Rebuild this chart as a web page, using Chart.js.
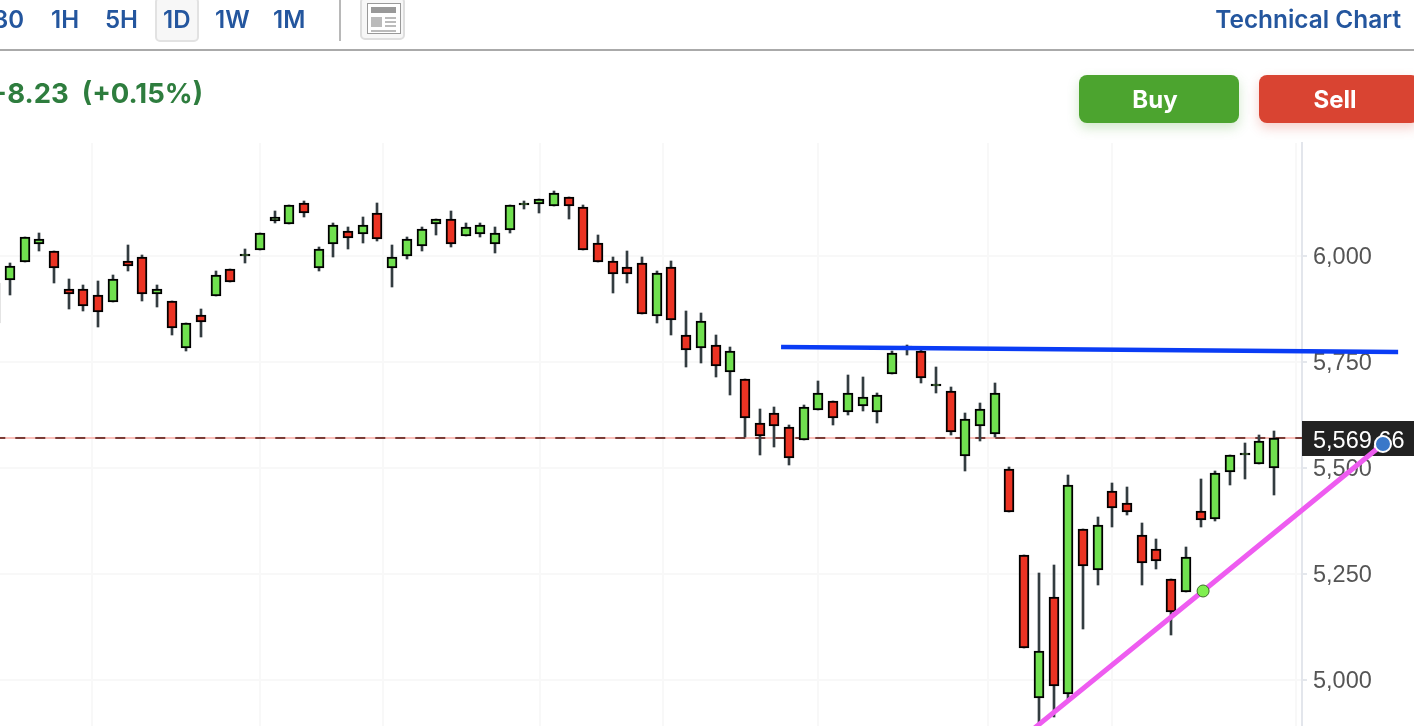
<!DOCTYPE html>
<html>
<head>
<meta charset="utf-8">
<title>Technical Chart</title>
<script src="https://cdn.jsdelivr.net/npm/chart.js@4"></script>
<style>
  html, body { margin: 0; padding: 0; background: #fff; overflow: hidden; }
  body { width: 1414px; height: 726px; position: relative; font-family: Inter, sans-serif; }
  canvas { position: absolute; left: 0; top: 0; }
  .tf { position: absolute; top: 0; height: 40px; line-height: 40px; font-size: 24px; font-weight: 600; color: #24569e; white-space: pre; }
  .active { position: absolute; left: 155px; top: -3px; width: 40px; height: 41px; background: #f7f7f7; border: 2px solid #e2e2e2; border-radius: 5px; }
  .divider { position: absolute; left: 339px; top: 0; width: 2px; height: 41px; background: #b8b8b8; }
  .rule { position: absolute; left: 0; top: 49px; width: 1414px; height: 2px; background: #aaa; }
  .change { position: absolute; right: calc(100% - 203px); top: 74px; line-height: 38px; font-size: 27.5px; font-weight: 700; color: #2e7d3e; white-space: pre; }
  .btn { position: absolute; top: 75px; height: 48px; line-height: 49px; border-radius: 8px; color: #fff; font-size: 24px; font-weight: 700; text-align: center; }
  .buy { left: 1079px; width: 152px; padding-right: 8px; background: #4ca42f; box-shadow: 0 5px 12px rgba(76,164,47,.25); }
  .sell { left: 1259px; width: 152px; padding-right: 8px; background: #d94432; box-shadow: 0 5px 12px rgba(217,68,50,.25); }
  svg { position: absolute; left: 360px; top: -3px; }
</style>
</head>
<body>
<canvas id="candleChart" width="1414" height="726"></canvas>

<div class="active"></div>
<div class="tf" style="right:calc(100% - 24px)">30</div>
<div class="tf" style="left:51px">1H</div>
<div class="tf" style="left:105px">5H</div>
<div class="tf" style="left:163px">1D</div>
<div class="tf" style="left:215px">1W</div>
<div class="tf" style="left:273px">1M</div>
<div class="divider"></div>
<svg width="45" height="44" viewBox="0 0 45 44">
  <rect x="1" y="1" width="43" height="41" rx="4" fill="#f7f7f7" stroke="#dedede" stroke-width="2"/>
  <rect x="7.5" y="6.5" width="33" height="30" fill="#fff" stroke="#999"/>
  <rect x="11" y="10" width="25" height="6" fill="#999"/>
  <rect x="11" y="20" width="11" height="10" fill="#bbb"/>
  <rect x="25" y="20" width="11" height="2" fill="#bbb"/>
  <rect x="25" y="24" width="11" height="2" fill="#bbb"/>
  <rect x="25" y="28" width="11" height="2" fill="#bbb"/>
  <rect x="11" y="33" width="25" height="2" fill="#bbb"/>
</svg>
<div class="tf" style="right:13px;font-size:24.4px;top:-1px">Technical Chart</div>
<div class="rule"></div>
<div class="change">+8.23  (+0.15%)</div>
<div class="btn buy">Buy</div>
<div class="btn sell">Sell</div>

<script>
// daily candles
const opens = [5936.3, 5943.4, 5985.9, 6028.3, 6011.1, 5921.5, 5921.5, 5907.3, 5891.5, 5987.5,
  5996.9, 5910.4, 5893.2, 5783, 5860.1, 5905.7, 5968.6, 6000, 6014.2, 6083.3,
  6075.5, 6124.3, 5971.7, 6028.3, 6058.3, 6051.9, 6100.7, 5971.7, 6000, 6023.6,
  6075.5, 6086.6, 6047.2, 6051.9, 6028.3, 6061.3, 6119.6, 6122.6, 6117.9, 6138.5,
  6114.9, 6030, 5987.5, 5973.4, 5982.8, 5858.5, 5973.4, 5813, 5783, 5789.4,
  5726.4, 5709.2, 5605.4, 5629, 5596, 5566, 5636.8, 5657.3, 5632.1, 5646.2,
  5632.1, 5721.7, 5781.9, 5775.2, 5693.4, 5680.9, 5528.3, 5599.1, 5580.2, 5496.9,
  5294.1, 4957.5, 5195, 4967, 5355.4, 5259.4, 5445, 5416.7, 5341.3, 5308.3,
  5237.5, 5207.5, 5397.9, 5380.4, 5490.6, 5530, 5509.4, 5500];
const highs = [5936.3, 5982.8, 6044.1, 6053.5, 6011.1, 5945, 5930.9, 5940.3, 5954.5, 6025.2,
  6001.7, 5930.9, 5893.2, 5841.3, 5874.3, 5963.9, 5968.6, 6015.8, 6053.5, 6105.4,
  6119.6, 6129, 6020.5, 6077.1, 6067.7, 6091.3, 6124.3, 6025.2, 6044.1, 6067.7,
  6086.6, 6105.4, 6077.1, 6077.1, 6067.7, 6119.6, 6129, 6133.7, 6152.6, 6138.5,
  6119.6, 6048.8, 5996.9, 6011.1, 5996.9, 5963.9, 5987.5, 5869.6, 5864.9, 5813,
  5784.7, 5709.2, 5638.4, 5643.2, 5600.7, 5647.9, 5704.5, 5657.3, 5718.6, 5713.9,
  5676.2, 5775.2, 5789.4, 5778.3, 5737.5, 5690.3, 5629, 5652.6, 5699.8, 5501.7,
  5294.1, 5251.7, 5270.5, 5482.8, 5355.4, 5383.7, 5463.9, 5454.5, 5369.6, 5331.8,
  5237.5, 5313, 5473.4, 5492.2, 5530, 5558.3, 5577.1, 5586.6];
const lows = [5842, 5908.7, 5985.9, 6012.5, 5937, 5875.7, 5871, 5833.3, 5891.5, 5965.3,
  5894.6, 5880.4, 5814.4, 5776.7, 5809.7, 5905.7, 5938.7, 5984.2, 6014.2, 6078.6,
  6075.5, 6092.7, 5965.3, 5998.4, 6017.2, 6031.4, 6036.1, 5927.6, 5993.6, 6012.5,
  6050.2, 6021.9, 6047.2, 6045.5, 6007.8, 6055, 6111.5, 6102.1, 6117.9, 6088,
  6014.2, 5985.9, 5913.5, 5937, 5863.2, 5842.7, 5814.4, 5738.9, 5748.4, 5715.3,
  5672.9, 5572.4, 5531.4, 5550.2, 5507.8, 5566, 5636.8, 5602.1, 5625.7, 5635.1,
  5606.8, 5721.7, 5767.2, 5701.2, 5677.6, 5578.5, 5493.6, 5564.4, 5572.4, 5396.2,
  5075.5, 4870.3, 4913.4, 4952.8, 5121, 5224.8, 5361.6, 5389.9, 5224.8, 5262.5,
  5106.8, 5207.5, 5361.6, 5375.7, 5460.6, 5474.8, 5509.4, 5437];
const closes = [5842, 5976.4, 6044.1, 6039.4, 5971.7, 5910.4, 5882.1, 5867.9, 5945, 5976.4,
  5910.4, 5921.5, 5830.2, 5841.3, 5844.3, 5954.5, 5938.7, 6000, 6053.5, 6091.3,
  6119.6, 6102.1, 6015.8, 6072.4, 6042.5, 6072.4, 6040.8, 5996.9, 6039.4, 6063,
  6086.6, 6028.3, 6067.7, 6072.4, 6053.5, 6119.6, 6119.6, 6133.7, 6147.9, 6117.9,
  6014.2, 5985.9, 5957.6, 5957.6, 5863.2, 5959.2, 5849.1, 5778.3, 5846, 5740.6,
  5775.2, 5617.9, 5575.5, 5599.1, 5523.6, 5643.2, 5676.2, 5617.9, 5676.2, 5666.7,
  5671.5, 5770.5, 5781.9, 5712.3, 5693.4, 5584.9, 5614.9, 5638.4, 5676.2, 5396.2,
  5075.5, 5067.7, 4985.8, 5459.2, 5268.9, 5364.9, 5405.7, 5396.2, 5276.7, 5281.4,
  5160.4, 5289.4, 5377.4, 5487.5, 5530, 5530, 5563, 5569.66];

const lastPrice = 5569.66;
const lastLineLevel = 5570.8;
const yTicks = [5000, 5250, 5500, 5750, 6000];
// month boundaries, in candle index units
const monthBreaks = [6.58, 18, 26.38, 37.06, 45.43, 56, 67.54, 76, 88.5];

// drawn trend lines: candle index and price
const resistanceX = [53.46, 95.44];
const resistanceY = [5785.4, 5773.6];
const supportX = [69.72, 82.17, 94.41];
const supportY = [4859, 5209.9, 5556.6];

function pairs(xs, ys) {
  return xs.map((x, i) => ({ x: x, y: ys[i] }));
}

const bodies = opens.map((o, i) => ({ x: i, y: [o, closes[i]] }));
const wicks = lows.map((l, i) => ({ x: i, y: [l, highs[i]] }));

// labels would otherwise push the plot area in from the canvas edges
function noPadding(scale) {
  scale.paddingLeft = scale.paddingRight = scale.paddingTop = scale.paddingBottom = 0;
}

// keep candles on whole pixels so they stay crisp
const snapBars = {
  id: 'snapBars',
  afterDatasetsUpdate(chart) {
    chart.data.datasets.forEach((ds, idx) => {
      if (ds.type === 'line') return;
      chart.getDatasetMeta(idx).data.forEach(el => {
        el.x = Math.round(el.x);
        el.y = Math.round(el.y);
        el.base = Math.round(el.base);
      });
    });
  }
};

// dark price tag on the axis, sits over the tick labels but under the drawings
const priceTag = {
  id: 'priceTag',
  beforeDatasetsDraw(chart) {
    const ctx = chart.ctx;
    const y = chart.scales.y.getPixelForValue(lastPrice);
    ctx.save();
    ctx.fillStyle = '#222';
    ctx.fillRect(chart.chartArea.right, Math.floor(y) - 17, 112, 35);
    ctx.fillStyle = '#fff';
    ctx.font = '23.5px "Liberation Sans"';
    ctx.textBaseline = 'middle';
    ctx.fillText(lastPrice.toLocaleString('en-US'), 1313, y + 3);
    ctx.restore();
  }
};

// the end handle lies outside the plot area, point elements skip it otherwise
const outerHandle = {
  id: 'outerHandle',
  afterDatasetsDraw(chart) {
    const idx = chart.data.datasets.findIndex(ds => ds.label === 'Support');
    const pts = chart.getDatasetMeta(idx).data;
    pts[pts.length - 1].draw(chart.ctx, { left: 0, top: 0, right: chart.width, bottom: chart.height });
  }
};

const ctx = document.getElementById('candleChart').getContext('2d');
new Chart(ctx, {
  type: 'bar',
  data: {
    datasets: [
      {
        type: 'line', label: 'Support', order: 1, clip: false,
        data: pairs(supportX, supportY),
        borderColor: '#ee5cf0', borderWidth: 5, tension: 0,
        pointRadius: [0, 6, 8],
        pointBackgroundColor: ['#ee5cf0', '#7ff04f', '#3a78c9'],
        pointBorderColor: ['#ee5cf0', '#3d6b2a', '#ffffff'],
        pointBorderWidth: [0, 1, 2]
      },
      {
        type: 'line', label: 'Resistance', order: 1, clip: false,
        data: pairs(resistanceX, resistanceY),
        borderColor: '#0a3cf5', borderWidth: 4.5, tension: 0, pointRadius: 0
      },
      {
        label: 'Body', order: 3, grouped: false,
        data: bodies,
        barThickness: 10, minBarLength: 2, borderWidth: 2, borderSkipped: false,
        borderColor: '#000',
        backgroundColor: c => closes[c.dataIndex] >= opens[c.dataIndex] ? '#70e04f' : '#eb3323'
      },
      {
        label: 'Wick', order: 4, grouped: false,
        data: wicks,
        barThickness: 2, backgroundColor: '#333c40', borderWidth: 0
      },
      {
        type: 'line', label: 'Last', order: 5,
        data: [{ x: 0, y: lastLineLevel }, { x: 89, y: lastLineLevel }],
        borderColor: '#7a3a35', borderWidth: 2, borderDash: [10, 10], pointRadius: 0
      },
      {
        type: 'line', label: 'Last band', order: 6,
        data: [{ x: 0, y: lastLineLevel }, { x: 89, y: lastLineLevel }],
        borderColor: '#f9c0bb', borderWidth: 2, pointRadius: 0
      }
    ]
  },
  plugins: [snapBars, priceTag, outerHandle],
  options: {
    responsive: false,
    animation: false,
    layout: { autoPadding: false, padding: { top: 143, left: 0, right: 0, bottom: 0 } },
    plugins: { legend: { display: false }, tooltip: { enabled: false } },
    scales: {
      x: {
        type: 'linear', offset: false,
        min: 0.32, max: 88.9,
        afterBuildTicks: scale => { scale.ticks = monthBreaks.map(v => ({ value: v })); },
        afterFit: noPadding,
        ticks: { display: false, autoSkip: false },
        border: { display: false },
        grid: { offset: false, color: '#f8f8f8', lineWidth: 2, drawTicks: false }
      },
      y: {
        position: 'right',
        min: 4891.5, max: 6266.5,
        afterBuildTicks: scale => { scale.ticks = yTicks.map(v => ({ value: v })); },
        afterFit: scale => { scale.width = 112; noPadding(scale); },
        border: { color: '#e3e6ec', width: 2 },
        grid: { color: '#f8f8f8', lineWidth: 2, tickLength: 5, tickColor: '#e4e7ec', tickWidth: 2 },
        ticks: {
          padding: 6, color: '#555', labelOffset: 2,
          font: { family: 'Liberation Sans', size: 23.5 },
          callback: v => v.toLocaleString('en-US')
        }
      }
    }
  }
});
</script>
</body>
</html>
